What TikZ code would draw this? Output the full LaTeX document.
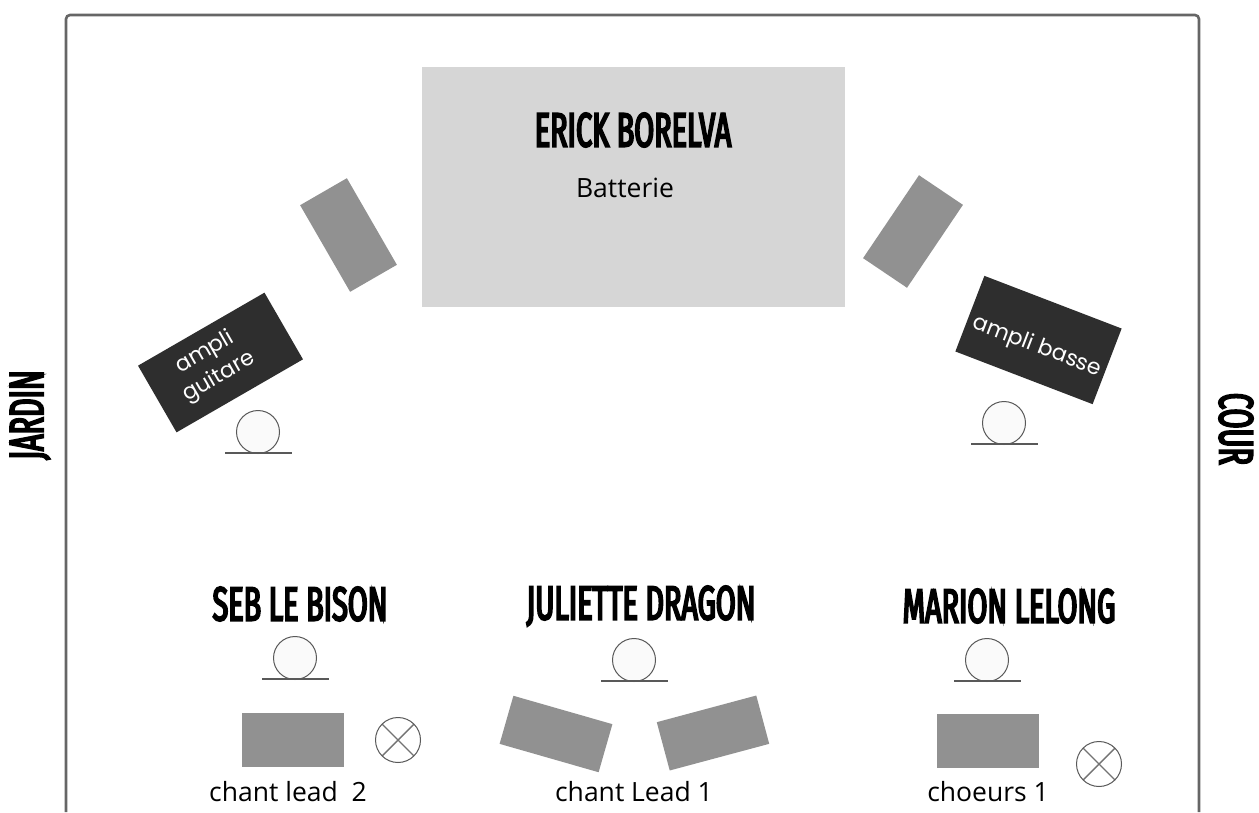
\documentclass[tikz,border=0pt]{standalone}
\usepackage{fontspec}
\setmainfont{Open Sans}
\newfontfamily\ampfont{Poppins}
\newfontfamily\namefont[FakeStretch=0.6,FakeBold=4]{Fira Sans}
\tikzset{
 wedgebox/.style={fill=black!43,draw=none,rotate=#1,inner sep=0pt},
 ampbox/.style={fill=black!82,draw=none,inner sep=0pt},
 amptext/.style={text=white,align=center,inner sep=0pt,font=\ampfont\fontsize{22}{28}\selectfont},
 nametext/.style={font=\namefont\fontsize{48}{50}\selectfont,inner sep=0pt},
 lab/.style={font=\fontsize{26.5}{30}\selectfont,inner sep=0pt},
 micc/.style={circle,draw=black!65,fill=black!2,line width=1pt,minimum size=43pt,inner sep=0pt},
 micl/.style={draw=black!65,line width=1.3pt},
 xc/.style={circle,draw=black!65,fill=white,line width=1pt,minimum size=45pt,inner sep=0pt,path picture={\draw[black!55,line width=1.4pt] (path picture bounding box.center)+(-16,-16)--+(16,16) (path picture bounding box.center)+(-16,16)--+(16,-16);}},
}
\newcommand{\mic}[3]{\node[micc] (#3) at (#1,#2) {};
 \coordinate (#3a) at (#1-33,#2+21); \coordinate (#3b) at (#1+34,#2+21);
 \draw[micl] (#3a)--(#3b);}
\begin{document}
\begin{tikzpicture}[x=1pt,y=-1pt]
\useasboundingbox (0,0) rectangle (1259,812);
\fill[white] (0,0) rectangle (1259,812);
\draw[black!60,line width=2.6pt,rounded corners=4pt] (66,812)--(66,15)--(1199,15)--(1199,812);
\node[fill=black!16,minimum width=423pt,minimum height=240pt,inner sep=0pt] (drums) at (633,187) {};
\node[nametext] (erick) at (633,130) {ERICK BORELVA};
\node[lab] (batt) at (625,188) {Batterie};
\node[wedgebox=30,minimum width=54pt,minimum height=100pt] (w1) at (348.5,235) {};
\node[wedgebox=-34,minimum width=53pt,minimum height=100pt] (w2) at (913,231.5) {};
\node[ampbox,rotate=30,minimum width=146pt,minimum height=77pt] (a1) at (220.5,362.5) {};
\node[amptext,rotate=30] (a1t) at (212,365) {ampli\\guitare};
\node[ampbox,rotate=-21,minimum width=147pt,minimum height=81pt] (a2) at (1038.5,340) {};
\node[amptext,rotate=-21] (a2t) at (1037,347) {ampli basse};
\mic{258}{432}{m1}
\mic{1004}{423}{m2}
\mic{295}{658}{m3}
\mic{634}{660}{m4}
\mic{987}{660}{m5}
\node[nametext,rotate=90] (jardin) at (30,415) {JARDIN};
\node[nametext,rotate=-90] (cour) at (1236,429) {COUR};
\node[nametext] (seb) at (300,604) {SEB LE BISON};
\node[nametext] (jul) at (641,606) {JULIETTE DRAGON};
\node[nametext] (mar) at (1009,606) {MARION LELONG};
\node[wedgebox=0,minimum width=102pt,minimum height=54pt] (w3) at (293,740) {};
\node[wedgebox=0,minimum width=102pt,minimum height=54pt] (w4) at (988,741) {};
\node[wedgebox=-16,minimum width=103pt,minimum height=50pt] (w5) at (556,734) {};
\node[wedgebox=15,minimum width=103pt,minimum height=50pt] (w6) at (713,733) {};
\node[xc] (x1) at (398,740) {};
\node[xc] (x2) at (1099,764) {};
\node[lab] (l1) at (288,792) {chant lead\ \ 2};
\node[lab] (l2) at (634,792) {chant Lead 1};
\node[lab] (l3) at (988,792) {choeurs 1};
\end{tikzpicture}
\end{document}
